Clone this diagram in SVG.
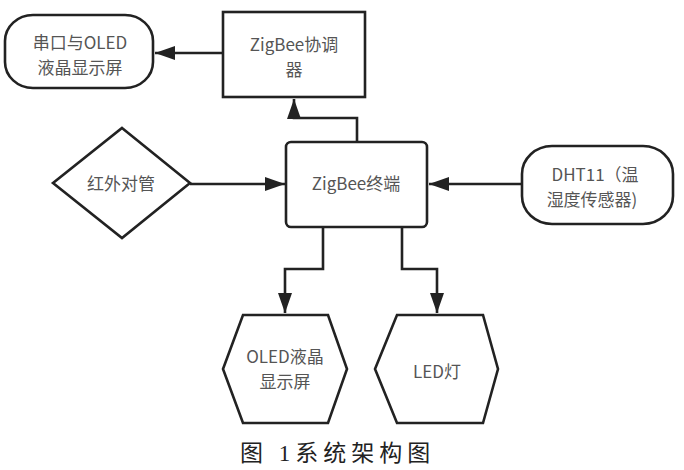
<svg xmlns="http://www.w3.org/2000/svg" width="684" height="470" viewBox="0 0 684 470">
<style>
.s{fill:#fff;stroke:#222;stroke-width:2.6}
.t{font-family:"Noto Sans CJK SC","Microsoft YaHei",sans-serif;font-size:17px;fill:#555;text-anchor:middle}
.c{fill:none;stroke:#222;stroke-width:2.6}
.cap{font-family:"Liberation Serif","Noto Sans CJK SC",serif;font-size:23px;fill:#222;letter-spacing:5px}
</style>
<defs>
<marker id="a" markerUnits="userSpaceOnUse" markerWidth="22" markerHeight="16" refX="20" refY="8" orient="auto">
<path d="M0,1 L20,8 L0,15 Z" fill="#222"/>
</marker>
</defs>
<rect width="684" height="470" fill="#fff"/>
<g id="connectors">
<path class="c" d="M223,53 H155" marker-end="url(#a)"/>
<path class="c" d="M357,142 V118 H294 V99" marker-end="url(#a)"/>
<path class="c" d="M190,184 H285" marker-end="url(#a)"/>
<path class="c" d="M522,184 H429" marker-end="url(#a)"/>
<path class="c" d="M323,227 V269 H285 V313" marker-end="url(#a)"/>
<path class="c" d="M402,227 V269 H437 V313" marker-end="url(#a)"/>
</g>
<g id="coordinator">
<rect class="s" x="223" y="12" width="142" height="85"/>
<text class="t" x="294" y="51">ZigBee协调</text>
<text class="t" x="294" y="76">器</text>
</g>
<g id="serial-oled">
<rect class="s" x="5" y="15" width="148" height="73" rx="28" ry="26"/>
<text class="t" x="80" y="49">串口与OLED</text>
<text class="t" x="80" y="74">液晶显示屏</text>
</g>
<g id="end-device">
<rect class="s" x="286" y="142" width="141" height="85" rx="5"/>
<text class="t" x="356" y="190">ZigBee终端</text>
</g>
<g id="ir">
<polygon class="s" points="122,128 190,183 122,238 53,183"/>
<text class="t" x="121" y="190">红外对管</text>
</g>
<g id="dht11">
<rect class="s" x="522" y="146" width="151" height="78" rx="30" ry="28"/>
<text class="t" x="595" y="181">DHT11（温</text>
<text class="t" x="592" y="206">湿度传感器)</text>
</g>
<g id="oled">
<polygon class="s" points="243,315 328,315 347,369 328,423 243,423 223,369"/>
<text class="t" x="285" y="363">OLED液晶</text>
<text class="t" x="285" y="388">显示屏</text>
</g>
<g id="led">
<polygon class="s" points="397,315 483,315 498,369 483,423 397,423 375,369"/>
<text class="t" x="437" y="378">LED灯</text>
</g>
<text class="cap" x="240" y="461">图 1系统架构图</text>
</svg>
